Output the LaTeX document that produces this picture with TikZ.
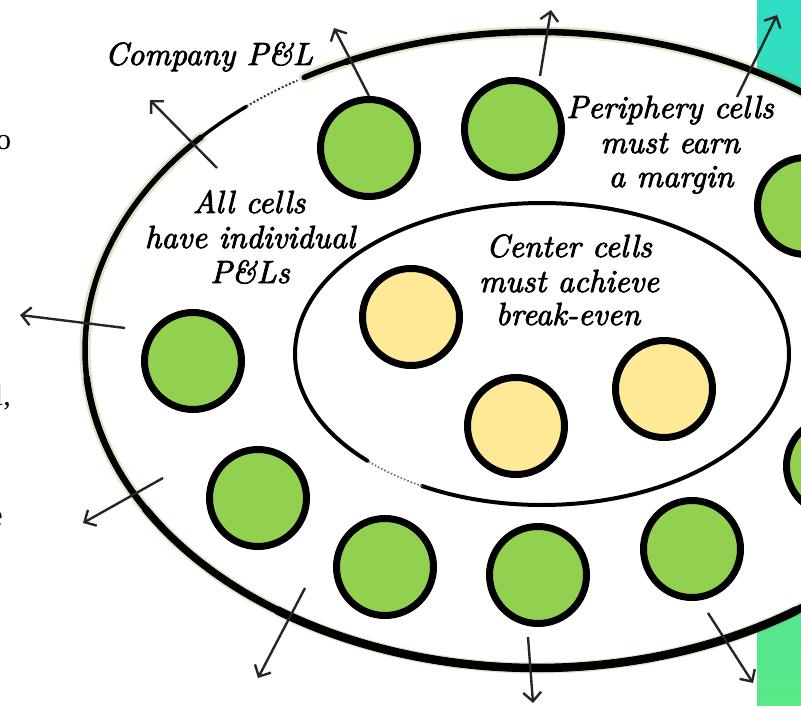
\documentclass[tikz,border=0pt]{standalone}
\usepackage{fontspec}
\newfontfamily\fragfont{Liberation Serif}
\newfontface\lblfont{lmroman10-italic.otf}[FakeBold=2.5]
\usetikzlibrary{arrows.meta}
\definecolor{cellgreen}{RGB}{146,208,80}
\definecolor{cellyellow}{RGB}{254,234,150}
\definecolor{stripteal}{RGB}{46,221,196}
\definecolor{stripgreen}{RGB}{90,232,136}
\definecolor{speck}{RGB}{120,130,10}
\begin{document}
\begin{tikzpicture}[x=1pt,y=-1pt,
  gcell/.style={circle, draw=black, line width=7pt, fill=cellgreen, minimum size=97pt, inner sep=0pt},
  ycell/.style={gcell, fill=cellyellow},
  lbl/.style={font=\lblfont\fontsize{32}{35}\selectfont, inner sep=0pt, anchor=base},
  frag/.style={font=\fragfont\fontsize{30}{34}\selectfont, inner sep=0pt},
  arr/.style={-{Straight Barb[length=9pt,width=18pt,line width=2.4pt]}, line width=2.4pt, draw=black!85},
  rim/.style={line cap=round, draw=black},
  halo/.style={line cap=round, draw=speck, opacity=0.22},
]
\useasboundingbox (0,0) rectangle (801,706);
% right colour strip
\shade[top color=stripteal,bottom color=stripgreen] (757,0) rectangle (801,706);
% outer ellipse (hand-drawn look: thicker at the bottom, fading at the upper left)
\fill[white] (537,350) ellipse [x radius=452, y radius=318];
\draw[halo, line width=11pt] (537,350) ++(-121:452 and 318) arc[start angle=-121, end angle=222, x radius=452, y radius=318];
\draw[rim, line width=5.5pt] (537,350) ++(-121:452 and 318) arc[start angle=-121, end angle=222, x radius=452, y radius=318];
\draw[rim, line width=6.5pt] (537,350) ++(-115:452 and 318) arc[start angle=-115, end angle=175, x radius=452, y radius=318];
\draw[rim, line width=7.5pt] (537,350) ++(20:452 and 318) arc[start angle=20, end angle=150, x radius=452, y radius=318];
\draw[rim, line width=8.5pt] (537,350) ++(55:452 and 318) arc[start angle=55, end angle=125, x radius=452, y radius=318];
\draw[rim, line width=3.5pt] (537,350) ++(222:452 and 318) arc[start angle=222, end angle=230, x radius=452, y radius=318];
\draw[dotted, line width=2pt, black!80] (537,350) ++(230:452 and 318) arc[start angle=230, end angle=238, x radius=452, y radius=318];
% inner ellipse
\draw[rim, line width=4pt] (542,354) ++(135:247 and 151) arc[start angle=135, end angle=479, x radius=247, y radius=151];
\draw[dotted, line width=1.6pt, black!60] (542,354) ++(119:247 and 151) arc[start angle=119, end angle=135, x radius=247, y radius=151];
% cells
\node[gcell] (g1) at (369,148) {};
\node[gcell] (g2) at (513,129) {};
\node[gcell] (g3) at (806,206) {};
\node[gcell] (g4) at (193,361) {};
\node[gcell] (g5) at (258,498) {};
\node[gcell] (g6) at (385,567) {};
\node[gcell] (g7) at (538,575) {};
\node[gcell] (g8) at (692,549) {};
\node[gcell] (g9) at (835,466) {};
\node[ycell] (y1) at (411,317) {};
\node[ycell] (y2) at (516,426) {};
\node[ycell] (y3) at (664,389) {};
% labels
\node[lbl] (co) at (209,65) {Company P\&L};
\node[lbl] (al1) at (249,213) {All cells};
\node[lbl] (al2) at (250,248) {have individual};
\node[lbl] (al3) at (250,283) {P\&Ls};
\node[lbl] (pe1) at (670,118) {Periphery cells};
\node[lbl] (pe2) at (670,153) {must earn};
\node[lbl] (pe3) at (671,187) {a margin};
\node[lbl] (ce1) at (569,257) {Center cells};
\node[lbl] (ce2) at (569,292) {must achieve};
\node[lbl] (ce3) at (568,325) {break-even};
% cut-off fragments at the left edge
\node[frag, anchor=base west] (f1) at (-4,150) {o};
\node[frag, anchor=base east] (f2) at (11,405) {l,};
\node[frag, anchor=base east] (f3) at (3,525) {e};
% arrows
\coordinate (a1) at (334,28);
\coordinate (s2) at (540,76);  \coordinate (a2) at (551,10);
\coordinate (s3) at (737,97);  \coordinate (a3) at (777,15);
\coordinate (s4) at (217,168); \coordinate (a4) at (150,100);
\coordinate (s5) at (125,328); \coordinate (a5) at (20,315);
\coordinate (s6) at (163,478); \coordinate (a6) at (83,523);
\coordinate (s7) at (305,588); \coordinate (a7) at (258,678);
\coordinate (s8) at (528,637); \coordinate (a8) at (533,703);
\coordinate (s9) at (708,613); \coordinate (a9) at (753,683);
\draw[arr] (g1.north) -- (a1);
\draw[arr] (s2) -- (a2);
\draw[arr] (s3) -- (a3);
\draw[arr] (s4) -- (a4);
\draw[arr] (s5) -- (a5);
\draw[arr] (s6) -- (a6);
\draw[arr] (s7) -- (a7);
\draw[arr] (s8) -- (a8);
\draw[arr] (s9) -- (a9);
\end{tikzpicture}
\end{document}
